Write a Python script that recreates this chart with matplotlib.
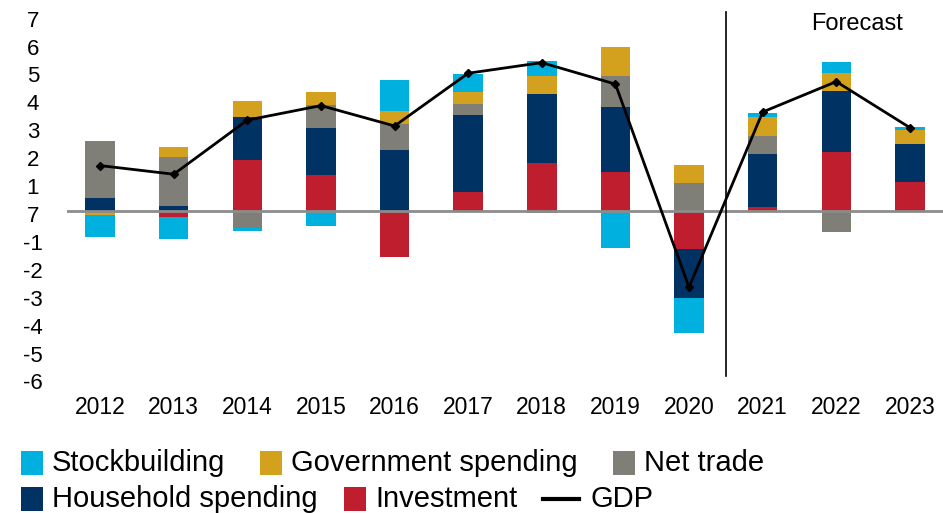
import matplotlib
matplotlib.use("Agg")
import matplotlib.pyplot as plt
import matplotlib.transforms as mtransforms
from matplotlib.patches import Rectangle
from matplotlib.lines import Line2D
import numpy as np

plt.rcParams['font.family'] = ['Liberation Sans', 'DejaVu Sans']

years = ['2012', '2013', '2014', '2015', '2016', '2017', '2018', '2019',
         '2020', '2021', '2022', '2023']
investment = [0.00, -0.24, 1.81, 1.27, -1.68, 0.65, 1.69, 1.37, -1.39, 0.11, 2.10, 1.03]
household = [0.44, 0.16, 1.53, 1.68, 2.17, 2.76, 2.47, 2.33, -1.75, 1.90, 2.19, 1.34]
net_trade = [2.06, 1.75, -0.62, 0.83, 0.93, 0.41, -0.10, 1.13, 1.00, 0.67, -0.76, 0.00]
government = [-0.15, 0.38, 0.60, 0.46, 0.46, 0.43, 0.67, 1.04, 0.62, 0.68, 0.63, 0.52]
stockbuilding = [-0.79, -0.79, -0.10, -0.54, 1.12, 0.64, 0.54, -1.35, -1.24, 0.12, 0.41, 0.09]
gdp = [1.61, 1.30, 3.24, 3.76, 3.03, 4.92, 5.30, 4.53, -2.75, 3.53, 4.62, 2.97]

ytick_values = [7, 6, 5, 4, 3, 2, 1, 0, -1, -2, -3, -4, -5, -6]
ytick_labels = ['7', '6', '5', '4', '3', '2', '1', '7', '-1', '-2', '-3', '-4', '-5', '-6']
forecast_label = 'Forecast'

series = [
    ('Investment', investment, '#BE1E2D'),
    ('Household spending', household, '#003263'),
    ('Net trade', net_trade, '#7F7F78'),
    ('Government spending', government, '#D4A11F'),
    ('Stockbuilding', stockbuilding, '#00B0DE'),
]

W, H = 943, 513
fig = plt.figure(figsize=(W / 100, H / 100), dpi=100)
ylo, yhi = -6.2, 7.3
ppu = 27.9
zero_px = 210.5
top_px = zero_px - yhi * ppu
bot_px = zero_px - ylo * ppu
left_px = 67
ax = fig.add_axes([left_px / W, 1 - bot_px / H, 1 - left_px / W, (bot_px - top_px) / H])

x = np.arange(len(years))
pos_base = np.zeros(len(years))
neg_base = np.zeros(len(years))
for name, vals, col in series:
    v = np.array(vals)
    pos = np.where(v > 0, v, 0)
    neg = np.where(v < 0, v, 0)
    ax.bar(x, pos, bottom=pos_base, width=0.4, color=col, linewidth=0)
    ax.bar(x, neg, bottom=neg_base, width=0.4, color=col, linewidth=0)
    pos_base += pos
    neg_base += neg

ax.axhline(0, color='#8C8C8C', lw=2, zorder=3)
ax.plot(x, gdp, color='black', lw=2, marker='D', markersize=4, zorder=5)

# forecast divider
ax.plot([8.5, 8.5], [-5.92, 7.1], color='black', lw=1.2, zorder=4)
ax.text(10.28, 6.68, forecast_label, fontsize=17, ha='center', va='center')

ax.set_xlim(-0.45, 11.45)
ax.set_ylim(ylo, yhi)
ax.set_xticks(x)
ax.set_xticklabels(years, fontsize=16.5)
ax.set_yticks(ytick_values)
ax.set_yticklabels(ytick_labels, fontsize=16)
ax.tick_params(axis='both', length=0)
ax.tick_params(axis='y', pad=24.5)
ax.tick_params(axis='x', pad=9)
off = mtransforms.ScaledTranslation(0, -3.5 / 100, fig.dpi_scale_trans)
for lab in ax.get_yticklabels():
    lab.set_ha('center')
    lab.set_transform(lab.get_transform() + off)
for s in ax.spines.values():
    s.set_visible(False)

# legend (manual)
def fx(px):
    return px / W

def fy(py):
    return 1 - py / H

legend_items = [
    ('Stockbuilding', '#00B0DE', 21, 463, 'patch'),
    ('Government spending', '#D4A11F', 260, 463, 'patch'),
    ('Net trade', '#7F7F78', 613, 463, 'patch'),
    ('Household spending', '#003263', 21, 499, 'patch'),
    ('Investment', '#BE1E2D', 344, 499, 'patch'),
    ('GDP', 'black', 543, 499, 'line'),
]
for label, col, px, py, kind in legend_items:
    if kind == 'patch':
        fig.patches.append(Rectangle((fx(px), fy(py + 12)), 22 / W, 24 / H,
                                     transform=fig.transFigure, color=col, lw=0))
        tx = px + 31
    else:
        fig.lines.append(Line2D([fx(px), fx(px + 36)], [fy(py), fy(py)],
                                transform=fig.transFigure, color=col, lw=3))
        tx = px + 47
    fig.text(fx(tx), fy(py), label, fontsize=21, ha='left', va='center')

fig.savefig('out.png', dpi=100)
